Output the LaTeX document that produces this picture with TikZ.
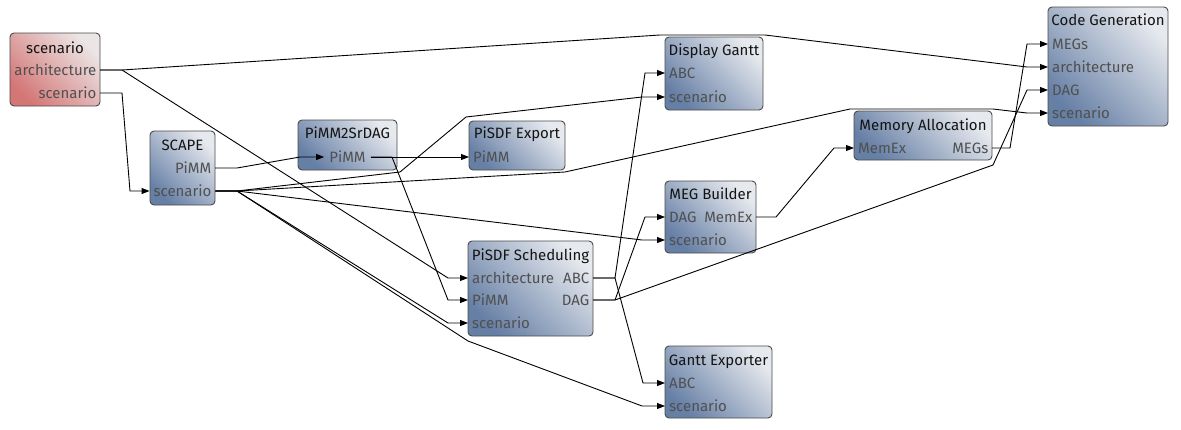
\documentclass[tikz,border=0pt]{standalone}
\usepackage{fontspec}
\setmainfont{Fira Sans}
\usetikzlibrary{arrows.meta}
\definecolor{bdark}{RGB}{102,127,165}
\definecolor{blight}{RGB}{230,233,238}
\definecolor{rdark}{RGB}{212,118,118}
\definecolor{rlight}{RGB}{236,229,229}
\definecolor{bordc}{RGB}{75,75,75}
\definecolor{titc}{RGB}{20,20,20}
\definecolor{portc}{RGB}{80,80,80}
\tikzset{
  blk/.style={draw=bordc, line width=0.9pt, rounded corners=4pt, inner sep=0pt,
    top color=blight, bottom color=bdark, shading angle=-45},
  redblk/.style={draw=bordc, line width=0.9pt, rounded corners=4pt, inner sep=0pt,
    top color=rlight, bottom color=rdark, shading angle=-45},
  txt/.style={font=\fontsize{15}{17}\selectfont, text height=10pt, text depth=0pt, inner ysep=0pt},
  ttl/.style={txt, text=titc, inner xsep=0pt},
  pin/.style={txt, text=portc, anchor=west, inner xsep=4pt},
  pout/.style={txt, text=portc, anchor=east, inner xsep=3.5pt},
  pmid/.style={txt, text=portc, inner xsep=5pt},
  conn/.style={line width=0.9pt, black, -{Triangle[length=8pt,width=6pt]}},
}
\begin{document}
\begin{tikzpicture}[x=1pt,y=-1pt]
\fill[white] (0,0) rectangle (1181,429);
\useasboundingbox (0,0) rectangle (1181,429);

% ---- boxes
\node[redblk, minimum width=90pt, minimum height=73pt] (scen) at (55,69.5) {};
\node[blk, minimum width=65pt, minimum height=74pt] (scape) at (182.5,168) {};
\node[blk, minimum width=99pt, minimum height=50pt] (p2s) at (347.5,145) {};
\node[blk, minimum width=96pt, minimum height=49pt] (exp) at (517,145.5) {};
\node[blk, minimum width=125pt, minimum height=95pt] (sch) at (530.5,288.5) {};
\node[blk, minimum width=98pt, minimum height=73pt] (dg) at (714,73.5) {};
\node[blk, minimum width=91pt, minimum height=72pt] (meg) at (710.5,217) {};
\node[blk, minimum width=107pt, minimum height=72pt] (ge) at (718.5,382) {};
\node[blk, minimum width=138pt, minimum height=49pt] (ma) at (923,135.5) {};
\node[blk, minimum width=120pt, minimum height=119pt] (cg) at (1108,66.5) {};

% ---- titles
\node[ttl] (scen-t) at (55,48) {scenario};
\node[ttl] (scape-t) at (182.5,145) {SCAPE};
\node[ttl] (p2s-t) at (347.5,133) {PiMM2SrDAG};
\node[ttl] (exp-t) at (517,133) {PiSDF Export};
\node[ttl] (sch-t) at (530.5,255) {PiSDF Scheduling};
\node[ttl] (dg-t) at (714,50) {Display Gantt};
\node[ttl] (meg-t) at (710.5,194) {MEG Builder};
\node[ttl] (ge-t) at (718.5,360) {Gantt Exporter};
\node[ttl] (ma-t) at (923,125) {Memory Allocation};
\node[ttl] (cg-t) at (1108,20) {Code Generation};

% ---- ports
\node[pout] (scen-arch) at (100,70) {architecture};
\node[pout] (scen-scen) at (100,93) {scenario};
\node[pout] (scape-pimm) at (215,168) {PiMM};
\node[pmid] (scape-scen) at (182.5,191) {scenario};
\node[pmid] (p2s-pimm) at (347.5,157) {PiMM};
\node[pin] (exp-pimm) at (469,157) {PiMM};
\node[pin] (sch-arch) at (468,278) {architecture};
\node[pin] (sch-pimm) at (468,300) {PiMM};
\node[pin] (sch-scen) at (468,323) {scenario};
\node[pout] (sch-abc) at (593,278) {ABC};
\node[pout] (sch-dag) at (593,300) {DAG};
\node[pin] (dg-abc) at (665,73) {ABC};
\node[pin] (dg-scen) at (665,97) {scenario};
\node[pin] (meg-dag) at (665,217) {DAG};
\node[pin] (meg-scen) at (665,240) {scenario};
\node[pout] (meg-memex) at (756,217) {MemEx};
\node[pin] (ge-abc) at (665,383) {ABC};
\node[pin] (ge-scen) at (665,406) {scenario};
\node[pin] (ma-memex) at (854,148) {MemEx};
\node[pout] (ma-megs) at (992,148) {MEGs};
\node[pin] (cg-megs) at (1048,44) {MEGs};
\node[pin] (cg-arch) at (1048,67) {architecture};
\node[pin] (cg-dag) at (1048,90) {DAG};
\node[pin] (cg-scen) at (1048,113) {scenario};

% ---- bend points
\coordinate (a0) at (122,70);
\coordinate (a1) at (660,35);
\coordinate (a2) at (765,35);
\coordinate (a3) at (1027,67);
\coordinate (a4) at (448,278);
\coordinate (b0) at (122,93);
\coordinate (b1) at (130,191);
\coordinate (c0) at (237,168);
\coordinate (c1) at (300,157);
\coordinate (d0) at (392,157);
\coordinate (d1) at (448,300);
\coordinate (s0) at (237,191);
\coordinate (s1) at (400,172);
\coordinate (s2) at (466,117);
\coordinate (s3) at (642,97);
\coordinate (s4) at (565,172);
\coordinate (s5) at (850,109);
\coordinate (s6) at (993,109);
\coordinate (s7) at (1027,113);
\coordinate (s8) at (642,240);
\coordinate (s9) at (448,323);
\coordinate (s10) at (468,341);
\coordinate (s11) at (642,406);
\coordinate (e0) at (615,278);
\coordinate (e1) at (645,73);
\coordinate (e2) at (643,383);
\coordinate (f0) at (615,300);
\coordinate (f1) at (645,217);
\coordinate (f2) at (993,165);
\coordinate (f3) at (1027,90);
\coordinate (g0) at (776,217);
\coordinate (g1) at (834,148);
\coordinate (h0) at (1010,148);
\coordinate (h1) at (1027,44);

% ---- connectors
\draw[conn] (scen-arch.east) -- (a0) -- (a1) -- (a2) -- (a3) -- (cg-arch.west);
\draw[conn] (scen-arch.east) -- (a0) -- (a4) -- (sch-arch.west);
\draw[conn] (scen-scen.east) -- (b0) -- (b1) -- (scape-scen -| scape.west);
\draw[conn] (scape-pimm.east) -- (c0) -- (c1) -- (p2s-pimm.west);
\draw[conn] (p2s-pimm.east) -- (exp-pimm.west);
\draw[conn] (p2s-pimm.east) -- (d0) -- (d1) -- (sch-pimm.west);
\draw[conn] (scape-scen -| scape.east) -- (s0) -- (s1) -- (s2) -- (s3) -- (dg-scen.west);
\draw[conn] (scape-scen -| scape.east) -- (s0) -- (s4) -- (s5) -- (s6) -- (s7) -- (cg-scen.west);
\draw[conn] (scape-scen -| scape.east) -- (s0) -- (s8) -- (meg-scen.west);
\draw[conn] (scape-scen -| scape.east) -- (s0) -- (s9) -- (sch-scen.west);
\draw[conn] (scape-scen -| scape.east) -- (s0) -- (s10) -- (s11) -- (ge-scen.west);
\draw[conn] (sch-abc.east) -- (e0) -- (e1) -- (dg-abc.west);
\draw[conn] (sch-abc.east) -- (e0) -- (e2) -- (ge-abc.west);
\draw[conn] (sch-dag.east) -- (f0) -- (f1) -- (meg-dag.west);
\draw[conn] (sch-dag.east) -- (f0) -- (f2) -- (f3) -- (cg-dag.west);
\draw[conn] (meg-memex.east) -- (g0) -- (g1) -- (ma-memex.west);
\draw[conn] (ma-megs.east) -- (h0) -- (h1) -- (cg-megs.west);
\end{tikzpicture}
\end{document}
